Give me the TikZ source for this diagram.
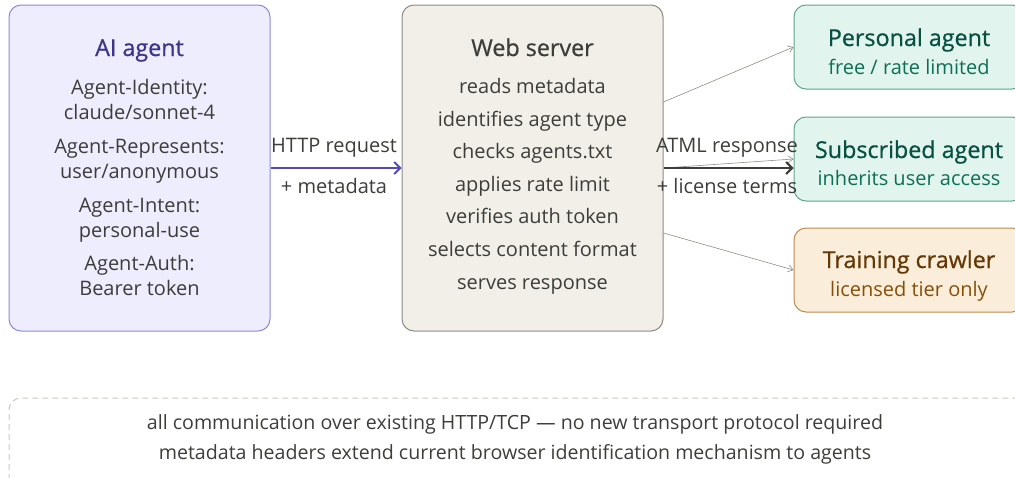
\documentclass[tikz,border=0pt]{standalone}
\usepackage{fontspec}
\setmainfont{Open Sans}
\newfontfamily\headfont{Open Sans}[FakeBold=0.7]
\usetikzlibrary{arrows.meta,positioning}

\definecolor{aifill}{HTML}{EEEDFE}
\definecolor{aidraw}{HTML}{8F89DA}
\definecolor{aitext}{HTML}{3C3489}
\definecolor{aiarrow}{HTML}{534AB7}
\definecolor{srvfill}{HTML}{F1EFE8}
\definecolor{srvdraw}{HTML}{8C8B86}
\definecolor{ink}{HTML}{3D3D3A}
\definecolor{grnfill}{HTML}{E1F5EE}
\definecolor{grndraw}{HTML}{5BA88A}
\definecolor{grntitle}{HTML}{085041}
\definecolor{grnsub}{HTML}{0F6E56}
\definecolor{ambfill}{HTML}{FAEEDA}
\definecolor{ambdraw}{HTML}{BC8A4E}
\definecolor{ambtitle}{HTML}{633806}
\definecolor{ambsub}{HTML}{854F0B}
\definecolor{thingray}{HTML}{8E8D88}
\definecolor{dashgray}{HTML}{C9C8C3}

\begin{document}
\begin{tikzpicture}[x=1pt,y=-1pt,
    box/.style={draw,rounded corners=12pt,line width=1pt,inner sep=0pt},
    bigbox/.style={box,minimum width=261pt,minimum height=326pt},
    sidebox/.style={box,minimum width=230pt,minimum height=84pt},
    hd/.style={anchor=base,inner sep=0pt,font=\headfont\fontsize{23.3}{28}\selectfont},
    ln/.style={anchor=base,inner sep=0pt,text=ink,font=\fontsize{20}{24}\selectfont},
    sub/.style={anchor=base,inner sep=0pt,font=\fontsize{20}{24}\selectfont},
    note/.style={anchor=base,inner sep=0pt,text=ink,font=\fontsize{19.6}{23}\selectfont}]
  \useasboundingbox (0,0) rectangle (1015,477);
  \clip (0,0) rectangle (1015,477);

  % boxes
  \node[bigbox,fill=aifill,draw=aidraw]   (ai)  at (139.5,168) {};
  \node[bigbox,fill=srvfill,draw=srvdraw] (srv) at (532.5,168) {};
  \node[sidebox,fill=grnfill,draw=grndraw] (pers) at (909,47)  {};
  \node[sidebox,fill=grnfill,draw=grndraw] (subs) at (909,159) {};
  \node[sidebox,fill=ambfill,draw=ambdraw] (crawl) at (909,270) {};
  \draw[dashgray,line width=1pt,dash pattern=on 6pt off 4pt,rounded corners=12pt]
       (9,490) -- (9,398) -- (1030,398);

  % AI agent
  \node[hd,text=aitext] (aititle) at (139.5,56) {AI agent};
  \node[ln] (ai1) at (139.5,94)  {Agent-Identity:};
  \node[ln] (ai2) at (139.5,119) {claude/sonnet-4};
  \node[ln] (ai3) at (139.5,153) {Agent-Represents:};
  \node[ln] (ai4) at (139.5,178) {user/anonymous};
  \node[ln] (ai5) at (139.5,212) {Agent-Intent:};
  \node[ln] (ai6) at (139.5,237) {personal-use};
  \node[ln] (ai7) at (139.5,270) {Agent-Auth:};
  \node[ln] (ai8) at (139.5,295) {Bearer token};

  % web server
  \node[hd,text=ink] (srvtitle) at (532.5,56) {Web server};
  \node[ln] (srv1) at (532.5,93)  {reads metadata};
  \node[ln] (srv2) at (532.5,126) {identifies agent type};
  \node[ln] (srv3) at (532.5,158) {checks agents.txt};
  \node[ln] (srv4) at (532.5,191) {applies rate limit};
  \node[ln] (srv5) at (532.5,223) {verifies auth token};
  \node[ln] (srv6) at (532.5,256) {selects content format};
  \node[ln] (srv7) at (532.5,289) {serves response};

  % agent kinds
  \node[hd,text=grntitle] (perstitle) at (909,46)  {Personal agent};
  \node[sub,text=grnsub]  (perssub)   at (909,74)  {free / rate limited};
  \node[hd,text=grntitle] (substitle) at (909,158) {Subscribed agent};
  \node[sub,text=grnsub]  (subssub)   at (909,185) {inherits user access};
  \node[hd,text=ambtitle] (crawltitle) at (909,268) {Training crawler};
  \node[sub,text=ambsub]  (crawlsub)   at (909,296) {licensed tier only};

  % arrow labels
  \node[ln] (req)  at (334,152) {HTTP request};
  \node[ln] (meta) at (334,193) {+ metadata};
  \node[ln] (resp) at (727,152) {ATML response};
  \node[ln] (lic)  at (727,193) {+ license terms};

  % connectors
  \coordinate (respend) at (srv.east -| subs.west);
  \path[thingray,line width=0.6pt,-{Straight Barb[length=5pt,width=7pt]}]
        ([yshift=66pt]srv.east) edge (pers.west)
        (srv.east) edge (subs.west)
        ([yshift=-65pt]srv.east) edge (crawl.west);
  \draw[aiarrow,line width=1.8pt,-{Straight Barb[length=6pt,width=12pt]}]
        (ai.east) -- (srv.west);
  \draw[ink,line width=2pt,-{Straight Barb[length=6pt,width=12pt]}]
        (srv.east) -- (respend);

  % footnote
  \node[note] (note1) at (515,429) {all communication over existing HTTP/TCP — no new transport protocol required};
  \node[note] (note2) at (515,459) {metadata headers extend current browser identification mechanism to agents};
\end{tikzpicture}
\end{document}
